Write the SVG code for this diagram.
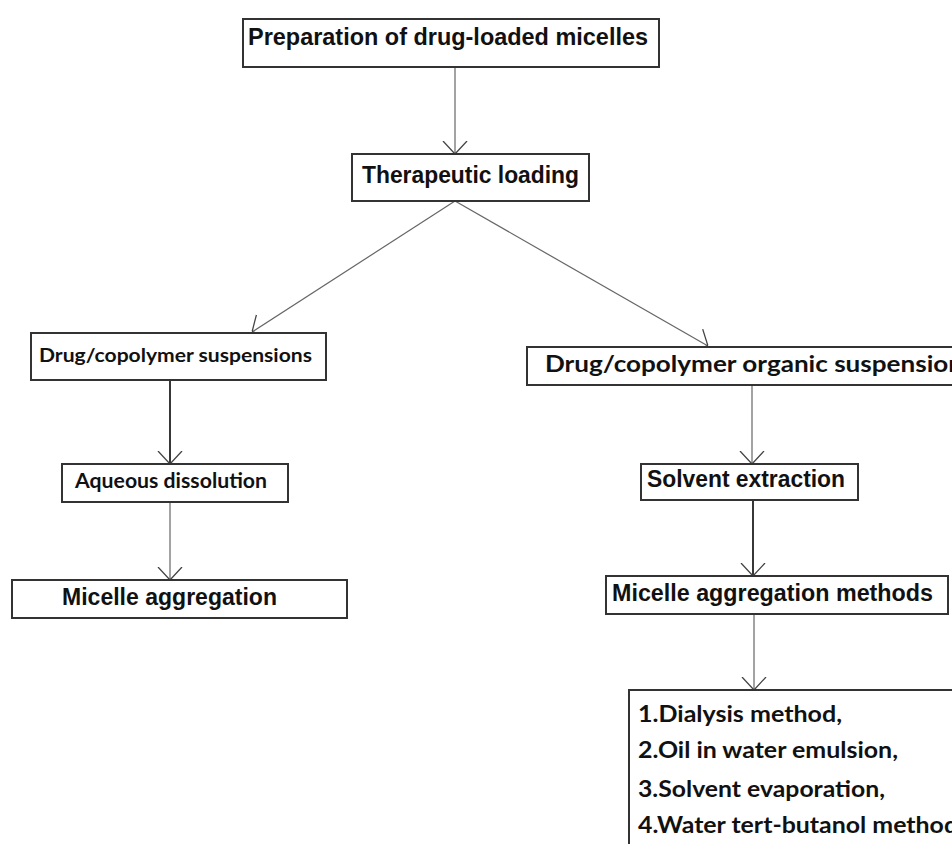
<svg xmlns="http://www.w3.org/2000/svg" width="952" height="844" viewBox="0 0 952 844">
<defs>
<style>
.box{fill:#fff;stroke:#333;stroke-width:2}
.a{font-family:"Liberation Sans",Arial,sans-serif;font-weight:bold;fill:#111;font-size:23px}
.c{font-family:Lato,"Open Sans",sans-serif;font-weight:bold;fill:#111}
.ln{stroke:#666;stroke-width:1.2;fill:none;marker-end:url(#ah)}
.dk{stroke:#222;stroke-width:1.8;fill:none;marker-end:url(#ah)}
</style>
<marker id="ah" viewBox="0 0 13 26" refX="13" refY="13" markerWidth="13" markerHeight="26" markerUnits="userSpaceOnUse" orient="auto">
<path d="M0,1 L13,13 L0,25" fill="none" stroke="#444" stroke-width="1.3"/>
</marker>
</defs>
<rect width="952" height="844" fill="#fff"/>
<g id="connectors">
<line class="ln" x1="455" y1="67" x2="455" y2="154"/>
<line class="ln" x1="455" y1="201" x2="252" y2="332"/>
<line class="ln" x1="455" y1="201" x2="708" y2="346"/>
<line class="dk" x1="170" y1="380" x2="170" y2="464"/>
<line class="ln" x1="170" y1="502" x2="170" y2="580"/>
<line class="ln" x1="752" y1="385" x2="752" y2="464"/>
<line class="dk" x1="753" y1="500" x2="753" y2="576"/>
<line class="ln" x1="754" y1="614" x2="754" y2="690"/>
</g>
<g id="n1">
<rect class="box" x="243" y="19" width="416" height="48"/>
<text class="a" x="248" y="45" font-size="22" textLength="400" lengthAdjust="spacingAndGlyphs">Preparation of drug-loaded micelles</text>
</g>
<g id="n2">
<rect class="box" x="352" y="154" width="237" height="47"/>
<text class="a" x="362" y="183" font-size="24" textLength="217" lengthAdjust="spacingAndGlyphs">Therapeutic loading</text>
</g>
<g id="n3">
<rect class="box" x="31" y="333" width="295" height="47"/>
<text class="c" x="39" y="362" font-size="19" textLength="273" lengthAdjust="spacingAndGlyphs">Drug/copolymer suspensions</text>
</g>
<g id="n4">
<rect class="box" x="62" y="464" width="226" height="38"/>
<text class="c" x="75" y="488" font-size="20" textLength="192" lengthAdjust="spacingAndGlyphs">Aqueous dissolution</text>
</g>
<g id="n5">
<rect class="box" x="12" y="580" width="335" height="38"/>
<text class="a" x="62" y="605" font-size="24" textLength="215" lengthAdjust="spacingAndGlyphs">Micelle aggregation</text>
</g>
<g id="n6">
<rect class="box" x="527" y="347" width="440" height="38"/>
<text class="c" x="545" y="372" font-size="23" textLength="418" lengthAdjust="spacingAndGlyphs">Drug/copolymer organic suspension</text>
</g>
<g id="n7">
<rect class="box" x="641" y="464" width="217" height="36"/>
<text class="a" x="647" y="487" font-size="23" textLength="198" lengthAdjust="spacingAndGlyphs">Solvent extraction</text>
</g>
<g id="n8">
<rect class="box" x="606" y="576" width="342" height="38"/>
<text class="a" x="612" y="601" font-size="24" textLength="321" lengthAdjust="spacingAndGlyphs">Micelle aggregation methods</text>
</g>
<g id="n9">
<rect class="box" x="629" y="690" width="340" height="170"/>
<text class="c" font-size="23" x="638" y="722" textLength="204" lengthAdjust="spacingAndGlyphs">1.Dialysis method,</text>
<text class="c" font-size="23" x="638" y="758" textLength="260" lengthAdjust="spacingAndGlyphs">2.Oil in water emulsion,</text>
<text class="c" font-size="23" x="638" y="797" textLength="247" lengthAdjust="spacingAndGlyphs">3.Solvent evaporation,</text>
<text class="c" font-size="23" x="638" y="833" textLength="320" lengthAdjust="spacingAndGlyphs">4.Water tert-butanol method</text>
</g>
</svg>
